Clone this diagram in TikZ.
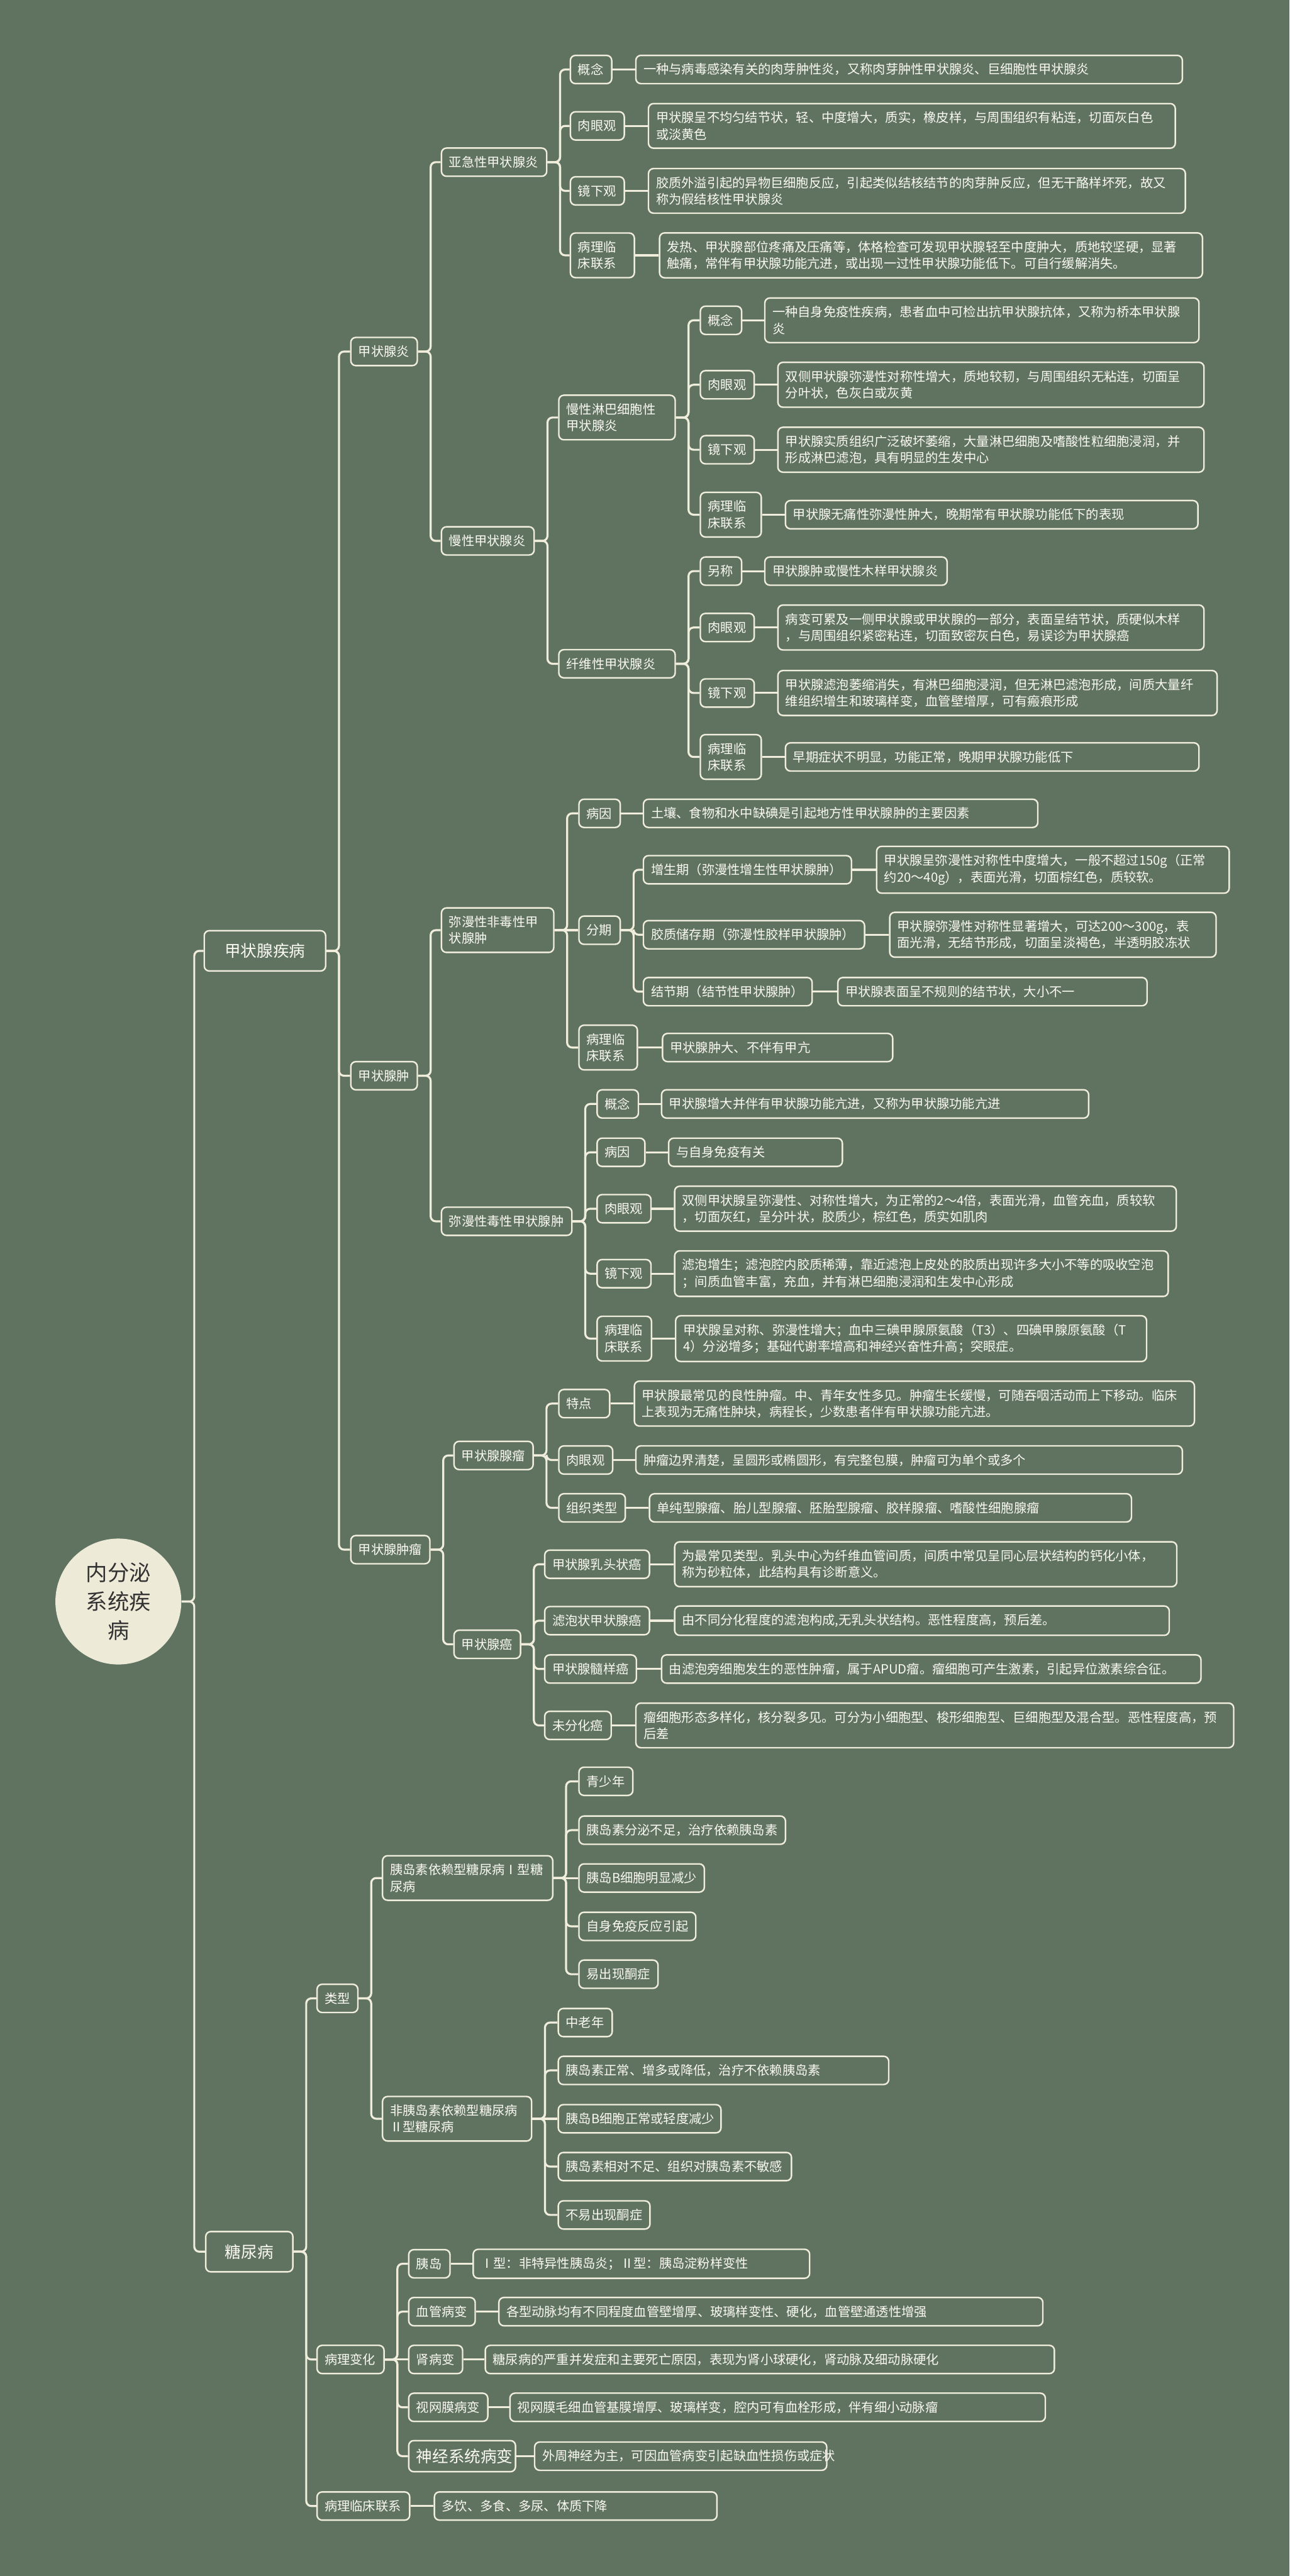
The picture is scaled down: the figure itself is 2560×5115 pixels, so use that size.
\documentclass[tikz,border=0pt]{standalone}
\usepackage{fontspec}
\setmainfont{Noto Sans CJK SC}
\definecolor{bgc}{RGB}{96,115,97}
\definecolor{linec}{RGB}{240,237,220}
\definecolor{txtc}{RGB}{250,249,242}
\definecolor{rootc}{RGB}{238,234,216}
\definecolor{roottxt}{RGB}{50,50,50}
\newcommand\leaffont{\fontsize{7.2}{9.4}\selectfont}
\newcommand\topicfont{\fontsize{9.1}{11}\selectfont}
\newcommand\corefont{\fontsize{12.2}{16.2}\selectfont}

\begin{document}
\begin{tikzpicture}[x=0.1mm, y=-0.1mm, every node/.style={font=\leaffont}]
\tikzset{box/.style={draw=linec, line width=0.3mm, rounded corners=1mm, fill=bgc, text=txtc,
  anchor=west, align=left, text width=#1, inner xsep=1.5mm, inner ysep=1.6mm, minimum height=5.6mm},
  topic/.style={box=#1, font=\topicfont, align=center, minimum height=8mm},
  core/.style={circle, fill=rootc, text=roottxt, minimum size=25mm, inner sep=0pt,
  align=center, font=\corefont},
  link/.style={draw=linec, line width=0.4mm, rounded corners=1mm}}
\path[use as bounding box, fill=bgc] (0,0) rectangle (2560,5115);

\node[core] (endo) at (235,3180) {内分泌\\系统疾\\病};
\node[topic=21.1mm] (thy) at (404,1888) {甲状腺疾病};
\node[topic=14.3mm] (dm) at (407,4471) {糖尿病};

\node[box=10.2mm] (tyan) at (695,698) {甲状腺炎};
\node[box=10.2mm] (tzh) at (695,2136) {甲状腺肿};
\node[box=12.7mm] (tliu) at (695,3077) {甲状腺肿瘤};

\node[box=17.9mm] (yaji) at (875,322) {亚急性甲状腺炎};
\node[box=5.2mm] (yaji-gn) at (1131,138) {概念};
\node[box=105.5mm] (yaji-gn-t) at (1261,138) {一种与病毒感染有关的肉芽肿性炎，又称肉芽肿性甲状腺炎、巨细胞性甲状腺炎};
\node[box=7.7mm] (yaji-ry) at (1131,250) {肉眼观};
\node[box=101.6mm] (yaji-ry-t) at (1286,250) {甲状腺呈不均匀结节状，轻、中度增大，质实，橡皮样，与周围组织有粘连，切面灰白色\\或淡黄色};
\node[box=7.7mm] (yaji-jx) at (1131,379) {镜下观};
\node[box=103.6mm] (yaji-jx-t) at (1286,379) {胶质外溢引起的异物巨细胞反应，引起类似结核结节的肉芽肿反应，但无干酪样坏死，故又\\称为假结核性甲状腺炎};
\node[box=9.7mm] (yaji-lc) at (1131,507) {病理临\\床联系};
\node[box=104.8mm] (yaji-lc-t) at (1308,507) {发热、甲状腺部位疼痛及压痛等，体格检查可发现甲状腺轻至中度肿大，质地较坚硬，显著\\触痛，常伴有甲状腺功能亢进，或出现一过性甲状腺功能低下。可自行缓解消失。};

\node[box=15.4mm] (manx) at (875,1074) {慢性甲状腺炎};
\node[box=20.1mm] (lb) at (1108,829) {慢性淋巴细胞性\\甲状腺炎};
\node[box=5.2mm] (lb-gn) at (1389,636) {概念};
\node[box=83.2mm] (lb-gn-t) at (1517,636) {一种自身免疫性疾病，患者血中可检出抗甲状腺抗体，又称为桥本甲状腺\\炎};
\node[box=7.7mm] (lb-ry) at (1389,764) {肉眼观};
\node[box=81.6mm] (lb-ry-t) at (1543,764) {双侧甲状腺弥漫性对称性增大，质地较韧，与周围组织无粘连，切面呈\\分叶状，色灰白或灰黄};
\node[box=7.7mm] (lb-jx) at (1389,893) {镜下观};
\node[box=81.6mm] (lb-jx-t) at (1543,893) {甲状腺实质组织广泛破坏萎缩，大量淋巴细胞及嗜酸性粒细胞浸润，并\\形成淋巴滤泡，具有明显的生发中心};
\node[box=9.1mm] (lb-lc) at (1389,1022) {病理临\\床联系};
\node[box=78.9mm] (lb-lc-t) at (1558,1022) {甲状腺无痛性弥漫性肿大，晚期常有甲状腺功能低下的表现};

\node[box=20.1mm] (xw) at (1108,1318) {纤维性甲状腺炎};
\node[box=5.2mm] (xw-ls) at (1389,1134) {另称};
\node[box=33.2mm] (xw-ls-t) at (1517,1134) {甲状腺肿或慢性木样甲状腺炎};
\node[box=7.7mm] (xw-ry) at (1389,1246) {肉眼观};
\node[box=81.6mm] (xw-ry-t) at (1543,1246) {病变可累及一侧甲状腺或甲状腺的一部分，表面呈结节状，质硬似木样\\，与周围组织紧密粘连，切面致密灰白色，易误诊为甲状腺癌};
\node[box=7.7mm] (xw-jx) at (1389,1376) {镜下观};
\node[box=84.2mm] (xw-jx-t) at (1543,1376) {甲状腺滤泡萎缩消失，有淋巴细胞浸润，但无淋巴滤泡形成，间质大量纤\\维组织增生和玻璃样变，血管壁增厚，可有瘢痕形成};
\node[box=9.1mm] (xw-lc) at (1389,1503) {病理临\\床联系};
\node[box=79.1mm] (xw-lc-t) at (1558,1503) {早期症状不明显，功能正常，晚期甲状腺功能低下};

\node[box=19.3mm] (fd) at (875,1847) {弥漫性非毒性甲\\状腺肿};
\node[box=5.2mm] (fd-by) at (1148,1615) {病因};
\node[box=75.3mm] (fd-by-t) at (1276,1615) {土壤、食物和水中缺碘是引起地方性甲状腺肿的主要因素};
\node[box=5.2mm] (fq) at (1148,1847) {分期};
\node[box=38.3mm] (zs) at (1276,1727) {增生期（弥漫性增生性甲状腺肿）};
\node[box=67mm] (zs-t) at (1739,1727) {甲状腺呈弥漫性对称性中度增大，一般不超过150g（正常\\约20～40g），表面光滑，切面棕红色，质较软。};
\node[box=40.9mm] (jz) at (1276,1856) {胶质储存期（弥漫性胶样甲状腺肿）};
\node[box=61.8mm] (jz-t) at (1765,1856) {甲状腺弥漫性对称性显著增大，可达200～300g，表\\面光滑，无结节形成，切面呈淡褐色，半透明胶冻状};
\node[box=30.5mm] (jj) at (1276,1969) {结节期（结节性甲状腺肿）};
\node[box=58.4mm] (jj-t) at (1662,1969) {甲状腺表面呈不规则的结节状，大小不一};
\node[box=8.6mm] (fd-lc) at (1148,2080) {病理临\\床联系};
\node[box=42.7mm] (fd-lc-t) at (1314,2080) {甲状腺肿大、不伴有甲亢};

\node[box=22.9mm] (dx) at (875,2425) {弥漫性毒性甲状腺肿};
\node[box=5.2mm] (dx-gn) at (1184,2192) {概念};
\node[box=81.8mm] (dx-gn-t) at (1312,2192) {甲状腺增大并伴有甲状腺功能亢进，又称为甲状腺功能亢进};
\node[box=6.5mm] (dx-by) at (1184,2288) {病因};
\node[box=31.5mm] (dx-by-t) at (1326,2288) {与自身免疫有关};
\node[box=7.7mm] (dx-ry) at (1184,2400) {肉眼观};
\node[box=96.6mm] (dx-ry-t) at (1338,2400) {双侧甲状腺呈弥漫性、对称性增大，为正常的2～4倍，表面光滑，血管充血，质较软\\，切面灰红，呈分叶状，胶质少，棕红色，质实如肌肉};
\node[box=7.7mm] (dx-jx) at (1184,2529) {镜下观};
\node[box=95mm] (dx-jx-t) at (1338,2529) {滤泡增生；滤泡腔内胶质稀薄，靠近滤泡上皮处的胶质出现许多大小不等的吸收空泡\\；间质血管丰富，充血，并有淋巴细胞浸润和生发中心形成};
\node[box=7.8mm] (dx-lc) at (1184,2658) {病理临\\床联系};
\node[box=90.5mm] (dx-lc-t) at (1340,2658) {甲状腺呈对称、弥漫性增大；血中三碘甲腺原氨酸（T3）、四碘甲腺原氨酸（T\\4）分泌增多；基础代谢率增高和神经兴奋性升高；突眼症。};

\node[box=12.7mm] (xl) at (900,2890) {甲状腺腺瘤};
\node[box=7.1mm] (xl-td) at (1108,2787) {特点};
\node[box=108.2mm] (xl-td-t) at (1258,2787) {甲状腺最常见的良性肿瘤。中、青年女性多见。肿瘤生长缓慢，可随吞咽活动而上下移动。临床\\上表现为无痛性肿块，病程长，少数患者伴有甲状腺功能亢进。};
\node[box=7.7mm] (xl-ry) at (1108,2899) {肉眼观};
\node[box=105.5mm] (xl-ry-t) at (1261,2899) {肿瘤边界清楚，呈圆形或椭圆形，有完整包膜，肿瘤可为单个或多个};
\node[box=10.2mm] (xl-zz) at (1108,2994) {组织类型};
\node[box=92.7mm] (xl-zz-t) at (1288,2994) {单纯型腺瘤、胎儿型腺瘤、胚胎型腺瘤、胶样腺瘤、嗜酸性细胞腺瘤};

\node[box=10.2mm] (ai) at (900,3265) {甲状腺癌};
\node[box=17.8mm] (ai-rt) at (1080,3106) {甲状腺乳头状癌};
\node[box=96.7mm] (ai-rt-t) at (1338,3106) {为最常见类型。乳头中心为纤维血管间质，间质中常见呈同心层状结构的钙化小体，\\称为砂粒体，此结构具有诊断意义。};
\node[box=17.8mm] (ai-lp) at (1080,3218) {滤泡状甲状腺癌};
\node[box=95.2mm] (ai-lp-t) at (1338,3218) {由不同分化程度的滤泡构成,无乳头状结构。恶性程度高，预后差。};
\node[box=15.2mm] (ai-sy) at (1080,3314) {甲状腺髓样癌};
\node[box=104.1mm] (ai-sy-t) at (1312,3314) {由滤泡旁细胞发生的恶性肿瘤，属于APUD瘤。瘤细胞可产生激素，引起异位激素综合征。};
\node[box=10.2mm] (ai-wf) at (1080,3426) {未分化癌};
\node[box=115.7mm] (ai-wf-t) at (1261,3426) {瘤细胞形态多样化，核分裂多见。可分为小细胞型、梭形细胞型、巨细胞型及混合型。恶性程度高，预\\后差};

\node[box=5.1mm] (lx) at (628,3968) {类型};
\node[box=30.8mm] (t1) at (758,3729) {胰岛素依赖型糖尿病Ⅰ型糖\\尿病};
\node[box=7.7mm] (t1-a) at (1148,3537) {青少年};
\node[box=38mm] (t1-b) at (1148,3634) {胰岛素分泌不足，治疗依赖胰岛素};
\node[box=21.9mm] (t1-c) at (1148,3729) {胰岛B细胞明显减少};
\node[box=20.2mm] (t1-d) at (1148,3825) {自身免疫反应引起};
\node[box=12.7mm] (t1-e) at (1148,3920) {易出现酮症};
\node[box=26.6mm] (t2) at (758,4207) {非胰岛素依赖型糖尿病\\Ⅱ型糖尿病};
\node[box=7.7mm] (t2-a) at (1107,4016) {中老年};
\node[box=62.6mm] (t2-b) at (1107,4111) {胰岛素正常、增多或降低，治疗不依赖胰岛素};
\node[box=29.3mm] (t2-c) at (1107,4207) {胰岛B细胞正常或轻度减少};
\node[box=43.3mm] (t2-d) at (1107,4302) {胰岛素相对不足、组织对胰岛素不敏感};
\node[box=15.2mm] (t2-e) at (1107,4398) {不易出现酮症};

\node[box=10.3mm] (bl) at (628,4685) {病理变化};
\node[box=5.2mm] (bl-yd) at (810,4495) {胰岛};
\node[box=63.8mm] (bl-yd-t) at (938,4495) {Ⅰ型：非特异性胰岛炎；Ⅱ型：胰岛淀粉样变性};
\node[box=10.2mm] (bl-xg) at (810,4590) {血管病变};
\node[box=105mm] (bl-xg-t) at (989,4590) {各型动脉均有不同程度血管壁增厚、玻璃样变性、硬化，血管壁通透性增强};
\node[box=7.7mm] (bl-sb) at (810,4685) {肾病变};
\node[box=110mm] (bl-sb-t) at (962,4685) {糖尿病的严重并发症和主要死亡原因，表现为肾小球硬化，肾动脉及细动脉硬化};
\node[box=12.7mm] (bl-sw) at (810,4780) {视网膜病变};
\node[box=103.3mm] (bl-sw-t) at (1011,4780) {视网膜毛细血管基膜增厚、玻璃样变，腔内可有血栓形成，伴有细小动脉瘤};
\node[box=18.2mm, font=\topicfont] (bl-sj) at (810,4877) {神经系统病变};
\node[box=55mm] (bl-sj-t) at (1060,4877) {外周神经为主，可因血管病变引起缺血性损伤或症状};
\node[box=15.4mm] (lclx) at (628,4976) {病理临床联系};
\node[box=53.1mm] (lclx-t) at (861,4976) {多饮、多食、多尿、体质下降};

\foreach \a/\b in {endo/thy, endo/dm, thy/tyan, thy/tzh, thy/tliu, tyan/yaji, tyan/manx,
  yaji/yaji-gn, yaji/yaji-ry, yaji/yaji-jx, yaji/yaji-lc, manx/lb, manx/xw,
  lb/lb-gn, lb/lb-ry, lb/lb-jx, lb/lb-lc, xw/xw-ls, xw/xw-ry, xw/xw-jx, xw/xw-lc,
  tzh/fd, tzh/dx, fd/fd-by, fd/fd-lc, fq/zs, fq/jz, fq/jj,
  dx/dx-gn, dx/dx-by, dx/dx-ry, dx/dx-jx, dx/dx-lc,
  tliu/xl, tliu/ai, xl/xl-td, xl/xl-ry, xl/xl-zz, ai/ai-rt, ai/ai-lp, ai/ai-sy, ai/ai-wf,
  dm/lx, dm/bl, dm/lclx, lx/t1, lx/t2, t1/t1-a, t1/t1-b, t1/t1-d, t1/t1-e,
  t2/t2-a, t2/t2-b, t2/t2-d, t2/t2-e, bl/bl-yd, bl/bl-xg, bl/bl-sw, bl/bl-sj}
  \draw[link] (\a.east) -- ++(2.5mm,0) |- (\b.west);
\foreach \a/\b in {fd/fq, t1/t1-c, t2/t2-c, bl/bl-sb}
  \draw[link] (\a.east) -- (\b.west);
\foreach \a in {yaji-gn, yaji-ry, yaji-jx, yaji-lc, lb-gn, lb-ry, lb-jx, lb-lc,
  xw-ls, xw-ry, xw-jx, xw-lc, fd-by, zs, jz, jj, fd-lc, dx-gn, dx-by, dx-ry, dx-jx, dx-lc,
  xl-td, xl-ry, xl-zz, ai-rt, ai-lp, ai-sy, ai-wf, bl-yd, bl-xg, bl-sb, bl-sw, bl-sj, lclx}
  \draw[link] (\a.east) -- (\a-t.west);
\end{tikzpicture}
\end{document}
